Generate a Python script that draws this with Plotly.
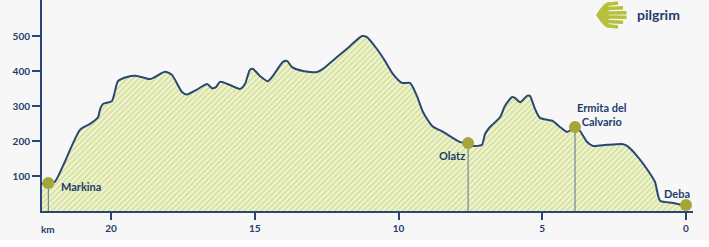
import plotly.graph_objects as go

# ---- data ----
km = [22.40, 22.18, 21.95, 21.67, 21.08, 20.73, 20.45, 20.38, 20.28, 19.97, 19.86, 19.76,
      19.44, 19.10, 18.64, 18.12, 17.88, 17.53, 17.36, 17.01, 16.66, 16.49, 16.35, 16.21,
      15.86, 15.51, 15.34, 15.17, 15.06, 14.82, 14.54, 14.37, 14.02, 13.88, 13.70, 13.32,
      12.83, 12.63, 12.14, 11.69, 11.27, 11.10, 10.75, 10.47, 10.19, 9.88, 9.60, 9.36,
      9.15, 8.83, 8.45, 7.86, 7.62, 7.41, 7.10, 6.99, 6.82, 6.47, 6.30, 6.05, 5.95, 5.77,
      5.53, 5.43, 5.25, 5.08, 4.63, 4.38, 4.14, 3.86, 3.69, 3.44, 3.23, 2.75, 2.19, 2.05,
      1.70, 1.36, 1.08, 0.90, 0.45, 0.00]
elev = [78, 80, 84, 129, 232, 249, 268, 291, 306, 314, 343, 371,
        383, 386, 377, 398, 389, 340, 333, 347, 363, 351, 354, 369,
        360, 349, 363, 403, 406, 386, 371, 386, 426, 429, 411, 400,
        397, 406, 440, 471, 500, 497, 463, 429, 391, 366, 366, 329,
        283, 243, 226, 197, 194, 186, 189, 220, 240, 268, 300, 326, 323, 311,
        329, 329, 291, 266, 257, 240, 226, 238, 229, 197, 186, 189, 191, 186,
        157, 120, 83, 29, 23, 15]

place_names = ["Markina", "Olatz", "Ermita del<br>Calvario", "Deba"]
place_km = [22.18, 7.58, 3.86, 0.0]
place_elev = [80, 194, 240, 17]
place_has_stem = [True, True, True, False]

x_ticks = [20, 15, 10, 5, 0]
y_ticks = [100, 200, 300, 400, 500]

# ---- style ----
NAVY = "#223d6a"
LINE = "#284676"
DOT = "#a4a637"
BG = "#f7f7f7"
SHELL = "#b5c13a"
FONT = "Lato"

W, H = 709, 247
ML, MR, MT, MB = 42, 16, 0, 36
PW, PH = W - ML - MR, H - MT - MB


def px(x, y):
    return (x - ML) / PW, (H - MB - y) / PH


fig = go.Figure()

fig.add_trace(go.Scatter(
    x=km, y=elev, mode="lines",
    line=dict(color=LINE, width=2, shape="spline", smoothing=0.6),
    fill="tozeroy",
    fillcolor="rgba(0,0,0,0)",
    fillpattern=dict(shape="/", fgcolor="#d7e299", bgcolor="#f2f5dc",
                     size=4, solidity=0.5, fillmode="replace"),
    hoverinfo="skip", showlegend=False,
))

for name, xk, ye, stem in zip(place_names, place_km, place_elev, place_has_stem):
    if stem:
        fig.add_trace(go.Scatter(
            x=[xk, xk], y=[0, ye], mode="lines",
            line=dict(color="#5d7593", width=1),
            hoverinfo="skip", showlegend=False,
        ))

fig.add_trace(go.Scatter(
    x=place_km, y=place_elev, mode="markers",
    marker=dict(color=DOT, size=12, line=dict(width=0)),
    hoverinfo="skip", showlegend=False, cliponaxis=False,
))

label_style = [
    dict(xanchor="left", yanchor="middle", xshift=11, yshift=-3, align="left"),
    dict(xanchor="right", yanchor="middle", xshift=-1, yshift=-12, align="right"),
    dict(xanchor="center", yanchor="middle", xshift=27, yshift=13, align="center"),
    dict(xanchor="center", yanchor="middle", xshift=-9, yshift=12, align="center"),
]
for name, xk, ye, st in zip(place_names, place_km, place_elev, label_style):
    fig.add_annotation(x=xk, y=ye, xref="x", yref="y", text=name, showarrow=False,
                       font=dict(family=FONT, size=11, color=NAVY, weight=700), **st)

# "km" label
kx, ky = px(48, 229)
fig.add_annotation(x=kx, y=ky, xref="paper", yref="paper", text="km", showarrow=False,
                   xanchor="center", yanchor="middle",
                   font=dict(family=FONT, size=10, color=NAVY, weight=700))

# pilgrim logo text
lx, ly = px(635, 14)
fig.add_annotation(x=lx, y=ly, xref="paper", yref="paper", text="pilgrim", showarrow=False,
                   xanchor="left", yanchor="middle",
                   font=dict(family=FONT, size=14, color=NAVY, weight=700))

# shell icon
shapes = []


def path_from(points, close=True):
    parts = []
    for i, (a, b) in enumerate(points):
        xx, yy = px(a, b)
        parts.append(("M" if i == 0 else "L") + f"{xx:.5f},{yy:.5f}")
    return " ".join(parts) + (" Z" if close else "")


chevron = [(596, 15), (600, 9), (604, 4.5), (607.5, 2.2), (608.5, 2.2),
           (608.5, 27.8), (607.5, 27.8), (604, 25.5), (600, 21)]
shapes.append(dict(type="path", xref="paper", yref="paper", path=path_from(chevron),
                   fillcolor=SHELL, line=dict(width=0), layer="above"))
rib_y = [4.3, 8.6, 12.9, 17.1, 21.4, 25.7]
rib_end = [618, 623, 626.5, 626.5, 623, 618]
for yy, xe in zip(rib_y, rib_end):
    ye = 15 + (yy - 15) * 1.12
    shapes.append(dict(type="path", xref="paper", yref="paper",
                       path=path_from([(607.5, yy), (xe, ye)], close=False),
                       line=dict(color=SHELL, width=3.5), layer="above"))

# white strip at bottom
bx0, by0 = px(0, 240)
bx1, by1 = px(W, H)
shapes.append(dict(type="rect", xref="paper", yref="paper", x0=bx0, x1=bx1, y0=by1, y1=by0,
                   fillcolor="#ffffff", line=dict(width=0), layer="below"))

fig.update_layout(
    width=W, height=H,
    margin=dict(l=ML, r=MR, t=MT, b=MB),
    paper_bgcolor=BG, plot_bgcolor=BG,
    shapes=shapes,
    xaxis=dict(range=[22.4, -0.243], tickvals=x_ticks, ticktext=[str(v) for v in x_ticks],
               showgrid=False, zeroline=False, showline=True, linecolor=LINE, linewidth=2,
               ticks="outside", ticklen=7, tickwidth=2, tickcolor=LINE,
               tickfont=dict(family=FONT, size=10, color=NAVY, weight=700)),
    yaxis=dict(range=[0, 603], tickvals=y_ticks, ticktext=[str(v) for v in y_ticks],
               showgrid=False, zeroline=False, showline=True, linecolor=LINE, linewidth=2,
               ticks="outside", ticklen=8, tickwidth=2, tickcolor=LINE,
               tickfont=dict(family=FONT, size=10, color=NAVY, weight=700)),
)

fig.write_html("out.html")
